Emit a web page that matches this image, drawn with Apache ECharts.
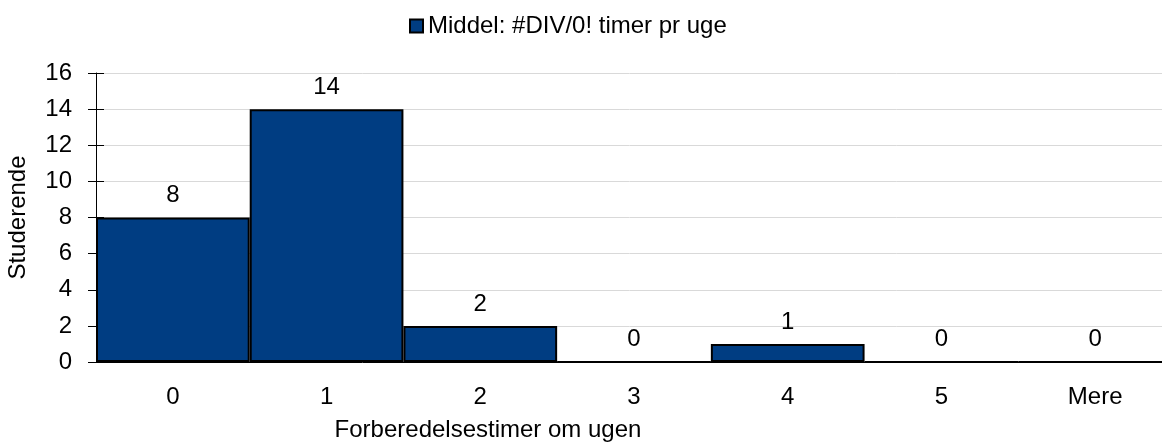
<!DOCTYPE html>
<html>
<head>
<meta charset="utf-8">
<script src="https://cdn.jsdelivr.net/npm/echarts@6/dist/echarts.min.js"></script>
<style>
  html, body { margin: 0; padding: 0; background: #fff; }
  #chart { width: 1162px; height: 446px; }
</style>
</head>
<body>
<div id="chart"></div>
<script>
  const categories = ['0', '1', '2', '3', '4', '5', 'Mere']
  const counts = [8, 14, 2, 0, 1, 0, 0]
  const seriesName = 'Middel: #DIV/0! timer pr uge'
  const yMin = 0, yMax = 16, yStep = 2

  const font = 'Liberation Sans, Arial, sans-serif'
  const fs = 24
  const chart = echarts.init(document.getElementById('chart'))

  const option = {
    animation: false,
    textStyle: { fontFamily: font, color: '#000' },
    legend: {
      top: 9,
      left: 404,
      itemWidth: 13,
      itemHeight: 13,
      textStyle: { fontFamily: font, fontSize: fs, color: '#000' },
      data: [{ name: seriesName, icon: 'rect' }]
    },
    grid: { left: 96, right: -10, top: 73, bottom: 84, outerBoundsMode: 'none' },
    xAxis: {
      type: 'category',
      data: categories,
      name: 'Forberedelsestimer om ugen',
      nameLocation: 'middle',
      nameGap: 56,
      nameTextStyle: { fontFamily: font, fontSize: fs, color: '#000', padding: [0, 292, 0, 0] },
      axisLine: { lineStyle: { color: '#000', width: 1 } },
      axisTick: { show: false },
      axisLabel: { fontFamily: font, fontSize: fs, color: '#000', margin: 23 }
    },
    yAxis: [
      {
        type: 'value',
        min: yMin,
        max: yMax,
        interval: yStep,
        name: 'Studerende',
        nameLocation: 'middle',
        nameGap: 66,
        nameTextStyle: { fontFamily: font, fontSize: fs, color: '#000' },
        axisLine: { show: true, lineStyle: { color: '#000', width: 1 } },
        axisTick: { show: true, length: 8, lineStyle: { color: '#000' } },
        axisLabel: { fontFamily: font, fontSize: fs, color: '#000', margin: 24 },
        splitLine: { lineStyle: { color: '#d9d9d9', width: 1 } }
      },
      {
        // inner half of the ticks, so they cross the axis line
        type: 'value',
        position: 'left',
        min: yMin,
        max: yMax,
        interval: yStep,
        axisLine: { show: false },
        axisTick: { show: true, inside: true, length: 8, lineStyle: { color: '#000' } },
        axisLabel: { show: false },
        splitLine: { show: false }
      }
    ],
    series: [
      {
        name: seriesName,
        type: 'bar',
        data: counts,
        barCategoryGap: '0%',
        itemStyle: { color: '#003d82', borderColor: '#000', borderWidth: 2 },
        label: {
          show: true,
          position: 'top',
          distance: 10,
          fontFamily: font,
          fontSize: fs,
          color: '#000'
        }
      }
    ]
  }

  chart.setOption(option)
</script>
</body>
</html>
